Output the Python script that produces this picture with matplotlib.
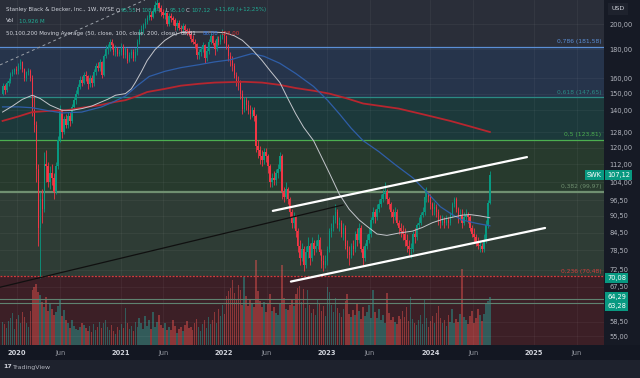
import matplotlib
matplotlib.use('Agg')
import matplotlib.pyplot as plt
import matplotlib.dates as mdates
import numpy as np
import pandas as pd
from matplotlib.patches import Rectangle
from matplotlib.ticker import FixedLocator, NullLocator, NullFormatter

plt.rcParams['font.family'] = 'DejaVu Sans'

# ---- weekly SWK candles ----
start_week = '2019-11-11'
first_open = 150
closes = [
    155, 152, 157, 158, 163, 164, 166, 165, 168, 171,
    166, 160, 164, 165, 160, 140, 132, 110, 86, 97,
    93, 112, 111, 104, 108, 106, 100, 111, 124, 140,
    128, 135, 132, 137, 134, 142, 146, 150, 154, 159,
    157, 162, 161, 156, 160, 157, 164, 168, 167, 171,
    162, 175, 180, 181, 186, 183, 178, 180, 177, 178,
    182, 176, 180, 172, 176, 178, 174, 178, 186, 194,
    196, 199, 202, 205, 208, 206, 211, 216, 218, 214,
    210, 208, 209, 200, 207, 205, 203, 198, 201, 197,
    196, 198, 195, 194, 192, 188, 186, 184, 176, 178,
    180, 183, 174, 179, 186, 190, 185, 180, 188, 186,
    190, 192, 190, 183, 175, 172, 168, 162, 158, 157,
    150, 141, 146, 143, 140, 138, 140, 137, 121, 119,
    116, 114, 118, 116, 111, 104, 106, 105, 108, 110,
    116, 100, 98, 101, 97, 92, 88, 90, 85, 80,
    76, 79, 74, 78, 80, 76, 81, 79, 80, 82,
    78, 75, 74, 75, 79, 85, 86, 89, 92, 87,
    88, 84, 86, 80, 78, 77, 80, 79, 84, 82,
    86, 79, 76, 80, 82, 84, 89, 92, 90, 93,
    95, 97, 99, 100, 97, 95, 92, 90, 92, 88,
    86, 85, 84, 82, 80, 79, 79, 84, 83, 87,
    88, 91, 92, 98, 99, 98, 95, 93, 94, 92,
    89, 88, 89, 88, 89, 88, 91, 95, 97, 93,
    90, 91, 88, 90, 91, 90, 86, 84, 83, 81,
    80, 80, 79, 82, 87, 95.55, 107.12,
]
highs = [
    157, 156, 158, 160, 164, 166, 167, 168, 170, 173,
    172, 167, 165, 167, 166, 162, 149, 134, 112, 100,
    101, 118, 119, 113, 111, 112, 108, 113, 126, 143,
    141, 137, 138, 139, 139, 144, 148, 152, 156, 161,
    161, 164, 165, 162, 162, 162, 166, 170, 171, 173,
    172, 177, 183, 184, 188, 188, 185, 183, 182, 180,
    185, 184, 182, 181, 178, 180, 180, 181, 188, 196,
    199, 201, 205, 208, 211, 211, 214, 220, 223, 219,
    216, 213, 212, 210, 209, 209, 207, 205, 203, 203,
    199, 201, 200, 197, 197, 194, 191, 188, 185, 180,
    182, 186, 184, 181, 188, 193, 191, 187, 190, 190,
    192, 196, 194, 191, 184, 178, 175, 170, 164, 161,
    159, 152, 148, 148, 146, 143, 142, 142, 138, 124,
    121, 119, 120, 120, 117, 112, 108, 109, 110, 112,
    118, 117, 102, 104, 102, 98, 93, 92, 91, 86,
    82, 81, 80, 80, 83, 81, 83, 82, 82, 84,
    83, 79, 77, 77, 80, 86, 88, 91, 95, 93,
    90, 89, 88, 87, 82, 80, 81, 82, 85, 86,
    88, 87, 80, 81, 84, 86, 90, 94, 93, 95,
    97, 99, 101, 104, 101, 98, 96, 93, 94, 93,
    89, 88, 87, 86, 84, 82, 81, 85, 86, 88,
    90, 92, 94, 101, 102, 100, 99, 96, 96, 95,
    93, 91, 91, 90, 91, 90, 92, 96, 98, 98,
    94, 93, 93, 92, 93, 92, 91, 87, 86, 84,
    83, 82, 81, 84, 89, 96.5, 108.84,
]
lows = [
    149, 150, 151, 155, 157, 161, 163, 163, 163, 166,
    164, 158, 158, 162, 158, 137, 128, 104, 80, 70,
    88, 92, 104, 102, 101, 103, 97, 99, 110, 123,
    125, 127, 130, 130, 131, 133, 140, 144, 149, 153,
    155, 156, 158, 153, 154, 154, 155, 162, 165, 165,
    160, 161, 174, 177, 179, 180, 176, 175, 175, 175,
    176, 174, 174, 170, 171, 174, 172, 172, 176, 184,
    191, 193, 197, 200, 203, 203, 205, 209, 213, 210,
    207, 205, 204, 198, 198, 202, 199, 195, 195, 195,
    193, 194, 193, 191, 190, 186, 184, 181, 173, 173,
    175, 178, 170, 172, 177, 184, 183, 176, 179, 183,
    184, 188, 185, 180, 172, 168, 165, 160, 155, 152,
    147, 138, 139, 140, 138, 135, 136, 134, 118, 115,
    112, 111, 112, 113, 108, 102, 102, 103, 103, 106,
    109, 97, 96, 97, 95, 90, 86, 86, 83, 78,
    74, 75, 72, 73, 76, 74, 75, 77, 78, 79,
    77, 73, 72, 73, 74, 78, 83, 85, 88, 86,
    85, 83, 82, 79, 76, 74, 76, 77, 78, 80,
    81, 78, 74, 75, 79, 81, 83, 88, 88, 89,
    92, 94, 96, 97, 95, 93, 90, 88, 89, 87,
    84, 83, 82, 80, 78, 77, 76, 78, 81, 82,
    86, 87, 90, 91, 96, 96, 93, 91, 91, 90,
    87, 86, 87, 86, 87, 86, 87, 90, 94, 92,
    88, 89, 86, 87, 89, 88, 85, 83, 81, 80,
    79, 78, 78, 78, 81, 86, 95.10,
]
volumes = [  # millions of shares
    5.2, 4.8, 3.9, 5.5, 6.1, 7.2, 3.6, 5.9, 6.8, 5.0, 7.5, 6.3, 5.1, 4.2,
    7.8, 12.6, 13.2, 13.9, 12.1, 11.4,
    9.8, 8.6, 10.9, 7.7, 9.6, 8.2, 6.9, 7.4, 8.8, 10.2, 6.6, 7.9, 5.8,
    4.9, 3.9, 5.8, 4.4, 3.6, 3.3, 4.0, 5.1, 4.6, 3.8, 3.2, 4.3, 3.0, 4.7,
    3.5, 4.1, 5.3, 3.8, 4.9, 5.6, 4.2, 3.4, 4.5, 3.1,
    2.6, 4.1, 3.3, 4.8, 3.9, 8.4, 5.0, 3.6, 4.4, 3.2, 5.3, 4.0, 6.1, 4.9,
    3.7, 6.6, 4.3, 5.7, 3.6, 7.4, 4.0, 5.2, 6.8, 4.6, 3.9, 5.1, 3.3, 4.2,
    3.5, 5.8, 4.4, 2.8, 3.6, 4.0, 3.1, 4.5, 5.5, 3.8, 4.1, 3.4, 5.0, 6.0,
    4.2, 3.2, 4.8, 5.6, 3.9, 6.3, 4.7,
    5.8, 7.6, 4.9, 8.3, 6.7, 9.1, 7.0, 11.2, 12.3, 12.9, 14.8, 11.8, 10.2,
    13.6, 12.5, 9.0, 15.4, 11.1, 8.8, 10.4, 9.3, 8.7, 19.3, 12.4, 10.1, 8.6,
    9.8, 7.5,
    9.4, 11.7, 7.8, 8.6, 7.2, 6.9, 9.6,
    18.2,
    10.6, 8.3, 7.9, 9.2, 10.4, 8.8, 11.5, 12.9, 13.4, 9.7, 12.8, 8.5, 12.5,
    9.0, 7.2, 8.1, 6.8, 10.3, 9.5, 7.7, 8.9, 6.5, 13.1, 12.0, 9.1, 7.6, 10.7,
    8.4, 7.3,
    6.4, 8.2, 9.9, 11.6, 7.1, 6.3, 8.0, 6.9, 9.3, 7.8, 5.9, 8.7, 6.6, 7.4,
    9.0, 6.2, 12.6, 7.5, 6.1, 8.3, 5.7, 6.8, 4.9, 11.9, 7.2, 5.6, 6.4, 5.2,
    4.7, 6.7, 5.9, 7.8, 6.3, 8.6, 5.4, 10.9, 6.0, 5.1, 4.6, 5.8,
    6.9, 4.8, 10.5, 6.2, 4.1, 5.5, 6.6, 4.9, 7.3, 8.9, 6.1, 5.0, 5.7, 4.4,
    6.8, 5.3, 8.2, 4.9, 6.0, 5.2, 7.0, 17.3, 6.4, 5.6, 4.8, 6.5, 7.7, 5.1,
    6.2, 8.3, 6.9, 5.4, 7.1, 9.6, 10.0, 10.926,
]

# moving averages, sampled at week indices
ma50_wk = [0, 5, 10, 15, 19, 24, 30, 35, 40, 45, 49, 53, 57, 62, 65, 67, 70, 73, 77,
           82, 86, 90, 95, 100, 106, 112, 117, 121, 126, 131, 135, 140, 144, 148, 152,
           157, 161, 165, 170, 175, 180, 184, 189, 194, 200, 207, 212, 217, 222, 227,
           232, 236, 241, 246]
ma50 = [139, 142.5, 146.5, 149, 147, 143, 140, 140, 141, 142.5, 144.5, 146.5, 149, 150,
        153, 157, 164, 172, 180, 187, 191, 193, 193.5, 193.5, 193.5, 193, 190.5, 187,
        180, 172, 165, 157, 147, 138, 130.5, 123.5, 115.5, 108, 99, 93, 89, 86.7, 84,
        83.5, 84.3, 85, 86.3, 88, 89.2, 90, 90.8, 91, 90.5, 89.81]
ma100_wk = [0, 8, 15, 22, 30, 40, 50, 56, 62, 68, 74, 82, 90, 99, 107, 115, 121, 126,
            132, 140, 148, 157, 164, 170, 176, 182, 190, 198, 207, 214, 221, 227, 232,
            239, 246]
ma100 = [142, 142, 141.5, 140, 138.5, 139, 142, 145, 148.5, 155, 161, 164.5, 167, 169,
         171, 172.5, 175, 177, 175, 170, 163, 154.5, 146, 138, 130, 123.5, 118, 112,
         106, 100, 94, 91, 89, 87.8, 86.88]
ma200_wk = [0, 8, 15, 24, 32, 40, 49, 57, 62, 68, 73, 82, 90, 99, 107, 115, 122, 131,
            140, 148, 157, 165, 174, 182, 191, 200, 213, 226, 236, 246]
ma200 = [134, 136.5, 139, 139.7, 140, 141.5, 143, 145, 146, 148.5, 151, 153, 155, 156.2,
         157, 157.3, 157.5, 157, 155.5, 153.5, 151.8, 150, 147, 144, 142.5, 141, 137.5,
         134, 131, 128]

# fibonacci retracement
fib_ratio = ['0,786', '0,618', '0,5', '0,382', '0,236']
fib_price = [181.58, 147.65, 123.81, 99.97, 70.48]
fib_line_col = ['#5b8fd6', '#2b8a84', '#4caf50', '#6f8f70', '#d23c3c']
band_col = ['#2a2e39', '#26344b', '#1c393b', '#273a2d', '#2e3c35', '#3c1f26']

# drawn lines (date, price)
channel_hi = (['2022-06-23', '2024-12-07'], [92.4, 115.4])
channel_lo = (['2022-08-26', '2025-02-09'], [69.0, 86.1])
dark_line = (['2019-11-02', '2023-02-26'], [67.4, 94.7])
dash_line = (['2019-11-02', '2021-03-28'], [168.9, 220.85])
hlines = [64.29, 63.28]

ytick_vals = [200, 180, 160, 150, 140, 128, 120, 112, 104, 96.5, 90.5, 84.5, 78.5,
              72.5, 67.5, 58.5, 55]
xtick_dates = ['2020-01-01', '2020-06-01', '2021-01-01', '2021-06-01', '2022-01-01',
               '2022-06-01', '2023-01-01', '2023-06-01', '2024-01-01', '2024-06-01',
               '2025-01-01', '2025-06-01']
xtick_labels = ['2020', 'Jun', '2021', 'Jun', '2022', 'Jun', '2023', 'Jun', '2024', 'Jun',
                '2025', 'Jun']

UP, DOWN = '#089981', '#f23645'

def comma(v):
    return f'{v:.2f}'.replace('.', ',')

closes = np.array(closes, float)
highs = np.array(highs, float)
lows = np.array(lows, float)
opens = np.r_[first_open, closes[:-1]]
dates = pd.date_range(start_week, periods=len(closes), freq='7D')
xd = mdates.date2num(dates)

fig = plt.figure(figsize=(6.4, 3.78), dpi=100, facecolor='#1e222d')
fig.add_artist(Rectangle((604/640, 33/378), 36/640, 345/378, transform=fig.transFigure,
                         fc='#161a25', ec='none', zorder=-5))
fig.add_artist(Rectangle((0, 18/378), 1, 15/378, transform=fig.transFigure,
                         fc='#131722', ec='none', zorder=-5))

ax = fig.add_axes([0, 33/378, 604/640, 345/378])
ax.set_facecolor('#22262f')
ax.set_yscale('log')
ax.set_ylim(53.09, 220.85)
x0 = mdates.date2num(pd.Timestamp('2020-01-01'))
ax.set_xlim(x0 - 60.07, x0 + 2074.3)
for s in ax.spines.values():
    s.set_visible(False)

# fib bands
edges = [1000] + fib_price + [1]
for i in range(len(band_col)):
    ax.axhspan(edges[i + 1], edges[i], color=band_col[i], lw=0, zorder=0)
for r, p, c in zip(fib_ratio, fib_price, fib_line_col):
    ls = (0, (1.5, 1.2)) if r == '0,236' else '-'
    lw = 1.6 if r == '0,382' else 0.9
    ax.axhline(p, color=c, lw=lw, ls=ls, zorder=2)
    ax.text(0.996, p * 1.012, f'{r} ({comma(p)})', transform=ax.get_yaxis_transform(),
            ha='right', va='bottom', fontsize=4.3, color=c, zorder=8)

# grid
ax.grid(True, color='white', alpha=0.05, lw=0.6, zorder=0.5)

# volume
vcol = np.where(closes >= opens, '#26a69a', '#ef5350')
vol_top = 78.5
ax.bar(xd, np.array(volumes) / vol_top, width=5.4, bottom=0, color=vcol, alpha=0.45,
       lw=0, zorder=1, transform=ax.get_xaxis_transform())

for p in hlines:
    ax.axhline(p, color='#5f8270', lw=0.8, zorder=2)

# candles
ccol = np.where(closes >= opens, UP, DOWN)
ax.vlines(xd, lows, highs, colors=ccol, lw=0.6, zorder=3)
lo = np.minimum(opens, closes)
hi = np.maximum(opens, closes)
ax.bar(xd, np.maximum(hi - lo, 0.25), width=4.6, bottom=lo, color=ccol, lw=0, zorder=3)

# moving averages
ax.plot(dates[ma200_wk], ma200, color='#b7262f', lw=1.3, zorder=4)
ax.plot(dates[ma100_wk], ma100, color='#2f5ea8', lw=0.9, zorder=4)
ax.plot(dates[ma50_wk], ma50, color='#c4c6cc', lw=0.7, zorder=4)

# drawings
for d, p in [channel_hi, channel_lo]:
    ax.plot(pd.to_datetime(d), p, color='white', lw=1.6, solid_capstyle='round', zorder=6)
ax.plot(pd.to_datetime(dark_line[0]), dark_line[1], color='#101010', lw=0.9, zorder=5)
ax.plot(pd.to_datetime(dash_line[0]), dash_line[1], color='#9aa0a8', lw=0.7,
        ls=(0, (3, 3)), zorder=5)

# axes ticks
ax.yaxis.tick_right()
ax.yaxis.set_major_locator(FixedLocator(ytick_vals))
ax.yaxis.set_minor_locator(NullLocator())
ax.yaxis.set_minor_formatter(NullFormatter())
ax.set_yticklabels([comma(v) for v in ytick_vals])
ax.tick_params(axis='y', length=0, pad=4, labelsize=4.8, labelcolor='#b2b5be')
ax.set_xticks(mdates.date2num(pd.to_datetime(xtick_dates)))
ax.set_xticklabels(xtick_labels)
ax.tick_params(axis='x', length=0, pad=3.5, labelsize=4.8)
for t in ax.get_xticklabels():
    if t.get_text() == 'Jun':
        t.set_color('#9598a1')
    else:
        t.set_color('#d1d4dc')
        t.set_fontweight('bold')

# price tags on the axis
def tag(price, text, dy=0):
    ax.annotate(text, (1.0, price), xycoords=ax.get_yaxis_transform(),
                xytext=(2.5, dy), textcoords='offset points', ha='left', va='center',
                fontsize=4.8, color='white', annotation_clip=False, zorder=10,
                bbox=dict(boxstyle='square,pad=0.3', fc=UP, ec='none'))

tag(closes[-1], comma(closes[-1]))
tag(70.08, '70,08', -0.5)
tag(64.29, '64,29', 1.5)
tag(63.28, '63,28', -2.5)
ax.annotate('SWK', (1.0, closes[-1]), xycoords=ax.get_yaxis_transform(),
            xytext=(-1.5, 0), textcoords='offset points', ha='right', va='center',
            fontsize=4.8, color='white', annotation_clip=False, zorder=10,
            bbox=dict(boxstyle='square,pad=0.3', fc=UP, ec='none'))
fig.text(618/640, 1 - 9/378, 'USD', ha='center', va='center', fontsize=4.5, color='#d1d4dc',
         bbox=dict(boxstyle='square,pad=0.5', fc='#1e222d', ec='none'))

# legend text
def ftxt(x, y, s, c, size=4.0, **kw):
    fig.text(x/640, 1 - y/378, s, ha='left', va='center', fontsize=size, color=c,
             zorder=20, **kw)

G = '#22ab94'
GR = '#d1d4dc'
ftxt(6, 10, 'Stanley Black & Decker, Inc., 1W, NYSE', GR)
ftxt(116, 10, 'O', GR); ftxt(121, 10, comma(opens[-1]), G)
ftxt(136, 10, 'H', GR); ftxt(141, 10, comma(highs[-1]), G)
ftxt(166, 10, 'L', GR); ftxt(170, 10, comma(lows[-1]), G)
ftxt(186, 10, 'C', GR); ftxt(191, 10, comma(closes[-1]), G)
ftxt(214, 10, '+11,69 (+12,25%)', G)
ftxt(6, 21, 'Vol', GR); ftxt(19, 21, f'{volumes[-1]:,.3f} M'.replace('.', ','), G)
ftxt(6, 33, '50,100,200 Moving Average (50, close, 100, close, 200, close)', GR)
ftxt(181, 33, comma(ma50[-1]), GR)
ftxt(203, 33, comma(ma100[-1]), '#3d7be0')
ftxt(220, 33, comma(ma200[-1]), '#e03030')

ftxt(3, 367, '17', '#d1d4dc', size=4.5, fontweight='bold')
ftxt(13, 367, 'TradingView', '#b2b5be', size=4.5)

fig.savefig('out.png', dpi=100, facecolor=fig.get_facecolor())
